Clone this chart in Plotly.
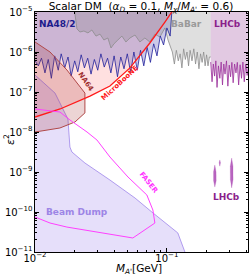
import math
import plotly.graph_objects as go

# ---------------- data (M_A' in GeV, epsilon^2) ----------------
# MicroBooNE limit line
mub_x = [0.0100, 0.0155, 0.0261, 0.0370, 0.0525, 0.0743, 0.0966, 0.1090]
mub_y = [2.37e-8, 3.76e-8, 7.9e-8, 1.41e-7, 4.0e-7, 1.68e-6, 5.6e-6, 1.0e-5]

# NA64 excluded contour
na64_x = [0.0100, 0.0130, 0.01746, 0.0239, 0.0239, 0.0201, 0.01545, 0.0100]
na64_y = [1.78e-6, 1.0e-6, 3.55e-7, 9.4e-8, 3.0e-8, 1.78e-8, 1.26e-8, 1.0e-8]

# Beam dump upper boundary
bd_x = [0.0100, 0.01418, 0.01778, 0.0184, 0.01905, 0.0239, 0.0370, 0.0573, 0.0769, 0.1054, 0.121, 0.137]
bd_y = [2.66e-7, 9.4e-8, 2.1e-8, 4.2e-9, 3.16e-9, 1.68e-9, 6.3e-10, 2.24e-10, 1.0e-10, 4.2e-11, 3.0e-11, 1.0e-11]

# FASER sensitivity contour
fa_x = [0.0100, 0.01545, 0.0184, 0.0248, 0.0295, 0.0370, 0.0507, 0.0705, 0.0783, 0.0811,
        0.0552, 0.0311, 0.01746, 0.0130, 0.0100]
fa_y = [3.76e-8, 3.16e-8, 2.0e-8, 1.0e-8, 6.3e-9, 2.37e-9, 7.5e-10, 2.66e-10, 1.12e-10, 5.3e-11,
        2.24e-11, 3.0e-11, 4.2e-11, 5.3e-11, 7.5e-11]

# NA48/2 lower boundary
na48_x = [0.0100, 0.0106, 0.0112, 0.0119, 0.0126, 0.0133, 0.0141, 0.0150, 0.0158, 0.0168,
          0.0178, 0.0188, 0.0200, 0.0211, 0.0224, 0.0237, 0.0251, 0.0266, 0.0282, 0.0299,
          0.0316, 0.0335, 0.0355, 0.0376, 0.0398, 0.0422, 0.0447, 0.0473, 0.0501, 0.0531,
          0.0562, 0.0596, 0.0631, 0.0668, 0.0708, 0.0750, 0.0794, 0.0841, 0.0891, 0.0944,
          0.1000, 0.1059, 0.1090]
na48_y = [6.0e-7, 4.5e-7, 7.0e-7, 3.0e-7, 6.5e-7, 2.2e-7, 8.0e-7, 3.5e-7, 9.0e-7, 4.0e-7,
          7.5e-7, 2.5e-7, 6.0e-7, 3.2e-7, 8.5e-7, 4.0e-7, 7.0e-7, 2.8e-7, 6.5e-7, 3.5e-7,
          9.0e-7, 4.2e-7, 7.0e-7, 3.0e-7, 8.0e-7, 2.4e-7, 7.5e-7, 3.8e-7, 9.0e-7, 3.0e-7,
          1.0e-6, 3.5e-7, 1.1e-6, 4.5e-7, 1.3e-6, 5.5e-7, 1.6e-6, 8.0e-7, 2.5e-6, 1.5e-6,
          4.0e-6, 2.5e-6, 1.0e-5]

# BaBar lower boundary
babar_x = [0.0200, 0.0204, 0.0208, 0.0219, 0.0235, 0.0252, 0.0270, 0.0290, 0.0311, 0.0333,
           0.0357, 0.0377, 0.0397, 0.0425, 0.0456, 0.0489, 0.0525, 0.0573, 0.0624, 0.0681,
           0.0743, 0.0811, 0.0885, 0.0966, 0.1020, 0.1072,
           0.1100, 0.1140, 0.1180, 0.1220, 0.1260, 0.1300, 0.1340, 0.1380, 0.1420, 0.1460,
           0.1500, 0.1550, 0.1600, 0.1650, 0.1700, 0.1750, 0.1800, 0.1850, 0.1900, 0.1950,
           0.2000, 0.2050, 0.2100, 0.2150]
babar_y = [1.0e-5, 6.3e-6, 3.8e-6, 3.16e-6, 3.35e-6, 3.0e-6, 3.55e-6, 2.5e-6, 2.8e-6, 2.0e-6,
           2.24e-6, 1.26e-6, 1.6e-6, 2.0e-6, 2.5e-6, 1.78e-6, 2.24e-6, 2.66e-6, 1.78e-6, 2.24e-6,
           1.78e-6, 2.8e-6, 2.37e-6, 4.0e-6, 2.0e-6, 1.26e-6,
           1.0e-6, 5.0e-7, 1.1e-6, 6.0e-7, 9.0e-7, 4.0e-7, 1.2e-6, 6.5e-7, 1.0e-6, 4.5e-7,
           1.1e-6, 6.0e-7, 1.2e-6, 5.0e-7, 1.0e-6, 3.8e-7, 9.0e-7, 5.5e-7, 1.0e-6, 4.5e-7,
           8.5e-7, 4.5e-7, 7.5e-7, 7.5e-7]

# LHCb lower boundary (upper region)
lhcb_x = [0.2150, 0.2200, 0.2250, 0.2300, 0.2350, 0.2400, 0.2460, 0.2520, 0.2580, 0.2640,
          0.2700, 0.2760, 0.2830, 0.2900, 0.2970, 0.3040, 0.3110, 0.3180, 0.3260, 0.3340,
          0.3420, 0.3500, 0.3590, 0.3680, 0.3770, 0.3860, 0.3960, 0.4060, 0.4200]
lhcb_y = [5.6e-7, 1.8e-7, 5.0e-7, 2.5e-7, 6.0e-7, 1.3e-7, 4.5e-7, 2.2e-7, 5.6e-7, 1.5e-7,
          5.0e-7, 2.8e-7, 6.0e-7, 1.4e-7, 4.7e-7, 2.4e-7, 5.5e-7, 1.7e-7, 5.0e-7, 3.0e-7,
          5.5e-7, 1.5e-7, 4.8e-7, 2.2e-7, 5.6e-7, 1.8e-7, 5.0e-7, 2.6e-7, 5.0e-7]

# LHCb displaced-vertex islands
isl1_x = [0.2310, 0.2360, 0.2365, 0.2310, 0.2260, 0.2258, 0.2310]
isl1_y = [1.5e-9, 1.0e-9, 6.0e-10, 4.2e-10, 6.0e-10, 1.0e-9, 1.5e-9]
isl2_x = [0.3100, 0.3170, 0.3175, 0.3100, 0.3030, 0.3025, 0.3100]
isl2_y = [2.24e-9, 1.4e-9, 6.5e-10, 4.0e-10, 6.5e-10, 1.4e-9, 2.24e-9]
isl3_x = [0.2520, 0.2550, 0.2520, 0.2490, 0.2520]
isl3_y = [2.0e-9, 1.7e-9, 1.4e-9, 1.7e-9, 2.0e-9]

YTOP = 1.0e-5
YBOT = 1.0e-11

fig = go.Figure()

def poly(xs, ys, fill, line=None, width=0):
    fig.add_trace(go.Scatter(x=xs, y=ys, mode="lines", fill="toself", fillcolor=fill,
                             line=dict(color=line or "rgba(0,0,0,0)", width=width),
                             hoverinfo="skip", showlegend=False))

def line(xs, ys, color, width=1.0, dash=None):
    fig.add_trace(go.Scatter(x=xs, y=ys, mode="lines",
                             line=dict(color=color, width=width, dash=dash),
                             hoverinfo="skip", showlegend=False))

# MicroBooNE excluded (above line)
poly(mub_x + [mub_x[0]], mub_y + [YTOP], "rgba(255,0,0,0.12)")
# Beam dump
poly(bd_x + [bd_x[0]], bd_y + [YBOT], "rgba(140,110,230,0.22)")
line(bd_x, bd_y, "rgba(140,110,230,0.65)", 1)
# NA48/2
poly(na48_x + [na48_x[0]], na48_y + [YTOP], "rgba(110,100,190,0.35)")
# BaBar
poly(babar_x + [babar_x[-1]], babar_y + [YTOP], "rgba(128,128,128,0.25)")
line(babar_x, babar_y, "#8c8c8c", 0.8)
# LHCb
poly(lhcb_x + [lhcb_x[-1], lhcb_x[0]], lhcb_y + [YTOP, YTOP], "rgba(150,60,150,0.28)")
line(lhcb_x, lhcb_y, "#9a2f9a", 0.8)
line(na48_x, na48_y, "#1f1f9a", 0.8)
# NA64
poly(na64_x, na64_y, "rgba(160,40,40,0.2)", "#b04848", 1)
# MicroBooNE line
line(mub_x, mub_y, "#ff1a1a", 1.3)
# FASER
line(fa_x, fa_y, "#ff40ff", 1)
# LHCb islands
for ix, iy in [(isl1_x, isl1_y), (isl2_x, isl2_y), (isl3_x, isl3_y)]:
    poly(ix, iy, "rgba(160,50,170,0.75)", "rgba(160,50,170,0.4)", 0.5)

F = "DejaVu Sans"
def label(txt, x, y, color, size=9, angle=0):
    fig.add_annotation(x=math.log10(x), y=math.log10(y), text="<b>%s</b>" % txt,
                       showarrow=False, textangle=angle, xanchor="center", yanchor="middle",
                       font=dict(family=F, size=size, color=color))

label("NA48/2", 0.0149, 5.0e-6, "#1c1c8c")
label("BaBar", 0.142, 5.0e-6, "#9a9a9a")
label("LHCb", 0.290, 5.0e-6, "#8b1f8b")
label("MicroBooNE", 0.0441, 1.68e-7, "#ff1a1a", 7, -43)
label("NA64", 0.0243, 1.78e-7, "#a03030", 7, 56)
label("FASER", 0.0731, 5.3e-10, "#ff33ff", 7, 51)
label("Beam Dump", 0.0208, 1.0e-10, "#9d85e6", 9)
label("LHCb", 0.285, 2.37e-10, "#8b1f8b", 9)

# axis titles
fig.add_annotation(xref="paper", yref="paper", x=(139 - 35) / 213, y=(252 - 269) / 240,
                   text="<i>M<sub>A'</sub></i>[GeV]", showarrow=False,
                   xanchor="center", yanchor="middle", font=dict(family=F, size=10.5, color="black"))
fig.add_annotation(xref="paper", yref="paper", x=(9 - 35) / 213, y=(252 - 140) / 240,
                   text="<i>ε</i><sup>2</sup>", showarrow=False, textangle=-90,
                   xanchor="center", yanchor="middle", font=dict(family=F, size=11, color="black"))

axis_common = dict(type="log", showline=True, linecolor="black", linewidth=1, mirror="ticks",
                   ticks="inside", ticklen=4, tickcolor="black", showgrid=False, zeroline=False,
                   exponentformat="power", showexponent="all", dtick=1, automargin=False,
                   tickfont=dict(family=F, size=8, color="black"),
                   minor=dict(ticks="inside", ticklen=2, tickcolor="black", dtick="D1", showgrid=False))

fig.update_xaxes(range=[-2, -0.385], ticklabelstandoff=-3, **axis_common)
fig.update_yaxes(range=[-11, -5], **axis_common)

fig.update_layout(
    width=249, height=275,
    margin=dict(l=35, r=1, t=12, b=23, autoexpand=False),
    paper_bgcolor="white", plot_bgcolor="white",
    title=dict(text="Scalar DM  (<i>α<sub>D</sub></i> = 0.1, <i>M<sub>χ</sub></i>/<i>M<sub>A'</sub></i> = 0.6)",
               x=141/249, xanchor="center", y=1-6/275, yanchor="middle",
               font=dict(family=F, size=10.5, color="black")),
    showlegend=False,
)

fig.write_html("out.html", config={"displayModeBar": False},
               post_script="document.body.style.margin='0';document.body.style.overflow='hidden';")
